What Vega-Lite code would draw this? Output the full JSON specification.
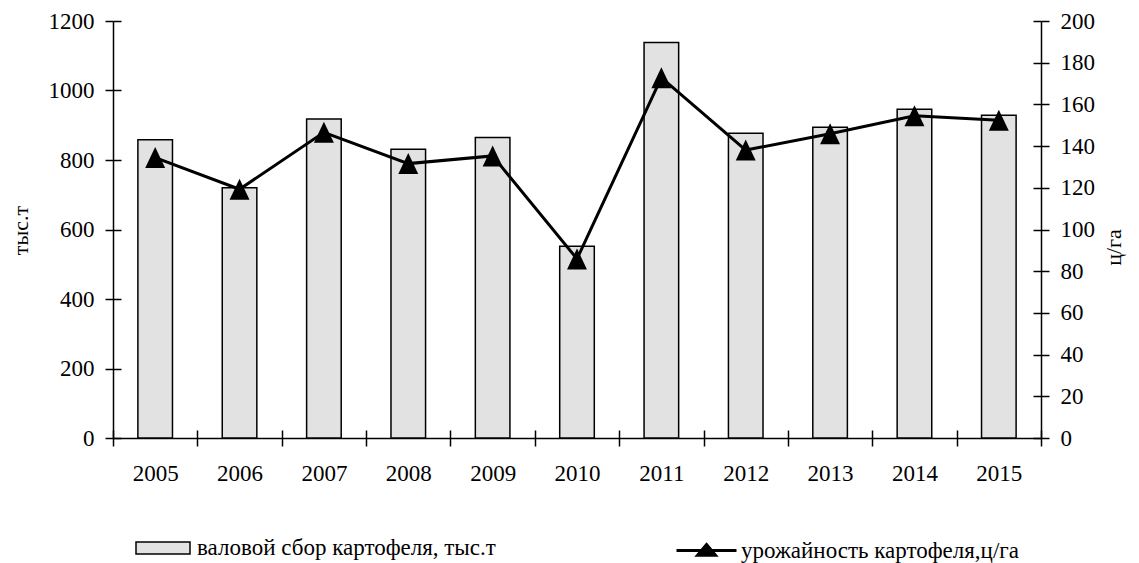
{
  "$schema": "https://vega.github.io/schema/vega-lite/v6.json",
  "width": 928,
  "height": 417,
  "autosize": {"type": "none"},
  "padding": {"left": 113, "top": 21, "right": 98, "bottom": 125},
  "background": "white",
  "config": {
    "view": {"stroke": null},
    "font": "Liberation Serif",
    "axis": {
      "domainColor": "black",
      "domainWidth": 1.5,
      "tickColor": "black",
      "tickWidth": 1.5,
      "labelColor": "black",
      "labelFont": "Liberation Serif",
      "labelFontSize": 23,
      "titleFont": "Liberation Serif",
      "titleFontSize": 22,
      "titleFontWeight": "normal",
      "titleColor": "black",
      "grid": false
    },
    "legend": {
      "labelFont": "Liberation Serif",
      "labelFontSize": 23,
      "labelColor": "black",
      "labelLimit": 1000,
      "padding": 0
    }
  },
  "data": {
    "values": [
      {"year": "2005", "gross": 858, "yield": 134.5},
      {"year": "2006", "gross": 720, "yield": 119.3},
      {"year": "2007", "gross": 918, "yield": 146.6},
      {"year": "2008", "gross": 831, "yield": 131.6},
      {"year": "2009", "gross": 865, "yield": 135.3},
      {"year": "2010", "gross": 552, "yield": 85.9},
      {"year": "2011", "gross": 1138, "yield": 172.8},
      {"year": "2012", "gross": 877, "yield": 138.1},
      {"year": "2013", "gross": 894, "yield": 145.9},
      {"year": "2014", "gross": 946, "yield": 154.5},
      {"year": "2015", "gross": 929, "yield": 152.4}
    ]
  },
  "layer": [
    {
      "mark": {"type": "bar", "width": {"band": 0.41}, "stroke": "black", "strokeWidth": 1.5},
      "encoding": {
        "x": {
          "field": "year", "type": "ordinal",
          "scale": {"type": "band", "paddingInner": 0, "paddingOuter": 0},
          "axis": {"orient": "bottom", "title": null, "labelAngle": 0, "tickBand": "extent", "tickSize": 8, "labelPadding": 16}
        },
        "y": {
          "field": "gross", "type": "quantitative",
          "scale": {"domain": [0, 1200], "nice": false},
          "axis": {"orient": "left", "values": [0, 200, 400, 600, 800, 1000, 1200], "format": "d", "tickSize": 8, "labelPadding": 11,
                   "title": "тыс.т", "titleX": -93, "titleY": 209, "titleAlign": "center", "titleBaseline": "middle", "titleAngle": -90}
        },
        "fill": {
          "datum": "валовой сбор картофеля, тыс.т", "type": "nominal",
          "scale": {"range": ["#e2e2e2"]},
          "legend": {
            "orient": "none", "legendX": 22, "legendY": 499, "title": null,
            "symbolType": "M-1,-0.22H1V0.22H-1Z", "symbolSize": 2916, "labelOffset": 6,
            "encode": {"symbols": {"update": {"stroke": {"value": "black"}, "strokeWidth": {"value": 1.5}, "fill": {"value": "#e2e2e2"}}}}
          }
        }
      }
    },
    {
      "layer": [
        {
          "mark": {"type": "line", "strokeWidth": 3},
          "encoding": {
            "x": {"field": "year", "type": "ordinal", "axis": {"orient": "bottom", "title": null, "labels": false, "domain": false, "tickBand": "extent", "tickSize": 8, "offset": -8}},
            "y": {
              "field": "yield", "type": "quantitative",
              "scale": {"domain": [0, 200], "nice": false},
              "axis": {"orient": "right", "values": [0, 20, 40, 60, 80, 100, 120, 140, 160, 180, 200], "format": "d", "tickSize": 8, "labelPadding": 11,
                       "title": "ц/га", "titleX": 72, "titleY": 226, "titleAlign": "center", "titleBaseline": "middle", "titleAngle": -90}
            },
            "stroke": {
              "datum": "урожайность картофеля,ц/га", "type": "nominal",
              "scale": {"range": ["black"]},
              "legend": {
                "orient": "none", "legendX": 562, "legendY": 498, "title": null,
                "symbolType": "M-1,0H1M0,-0.2L0.3,0.16L-0.3,0.16Z", "symbolSize": 3600, "labelOffset": 3,
                "encode": {"symbols": {"update": {"stroke": {"value": "black"}, "strokeWidth": {"value": 3}, "fill": {"value": "black"}}}}
              }
            }
          }
        },
        {
          "mark": {"type": "point", "shape": "M0,-1L0.95,1L-0.95,1Z", "filled": true, "color": "black", "opacity": 1, "size": 441},
          "encoding": {
            "x": {"field": "year", "type": "ordinal"},
            "y": {"field": "yield", "type": "quantitative"}
          }
        }
      ]
    },
    {
      "mark": {"type": "bar", "opacity": 0},
      "encoding": {
        "x": {"field": "year", "type": "ordinal", "axis": null},
        "y": {
          "field": "gross", "type": "quantitative",
          "scale": {"domain": [0, 1200], "nice": false},
          "axis": {"orient": "left", "values": [0, 200, 400, 600, 800, 1000, 1200], "tickSize": 8, "offset": -8, "labels": false, "domain": false, "title": null}
        }
      }
    },
    {
      "mark": {"type": "bar", "opacity": 0},
      "encoding": {
        "x": {"field": "year", "type": "ordinal", "axis": null},
        "y": {
          "field": "yield", "type": "quantitative",
          "scale": {"domain": [0, 200], "nice": false},
          "axis": {"orient": "right", "values": [0, 20, 40, 60, 80, 100, 120, 140, 160, 180, 200], "tickSize": 8, "offset": -8, "labels": false, "domain": false, "title": null}
        }
      }
    }
  ],
  "resolve": {"scale": {"y": "independent"}, "axis": {"x": "independent"}}
}
